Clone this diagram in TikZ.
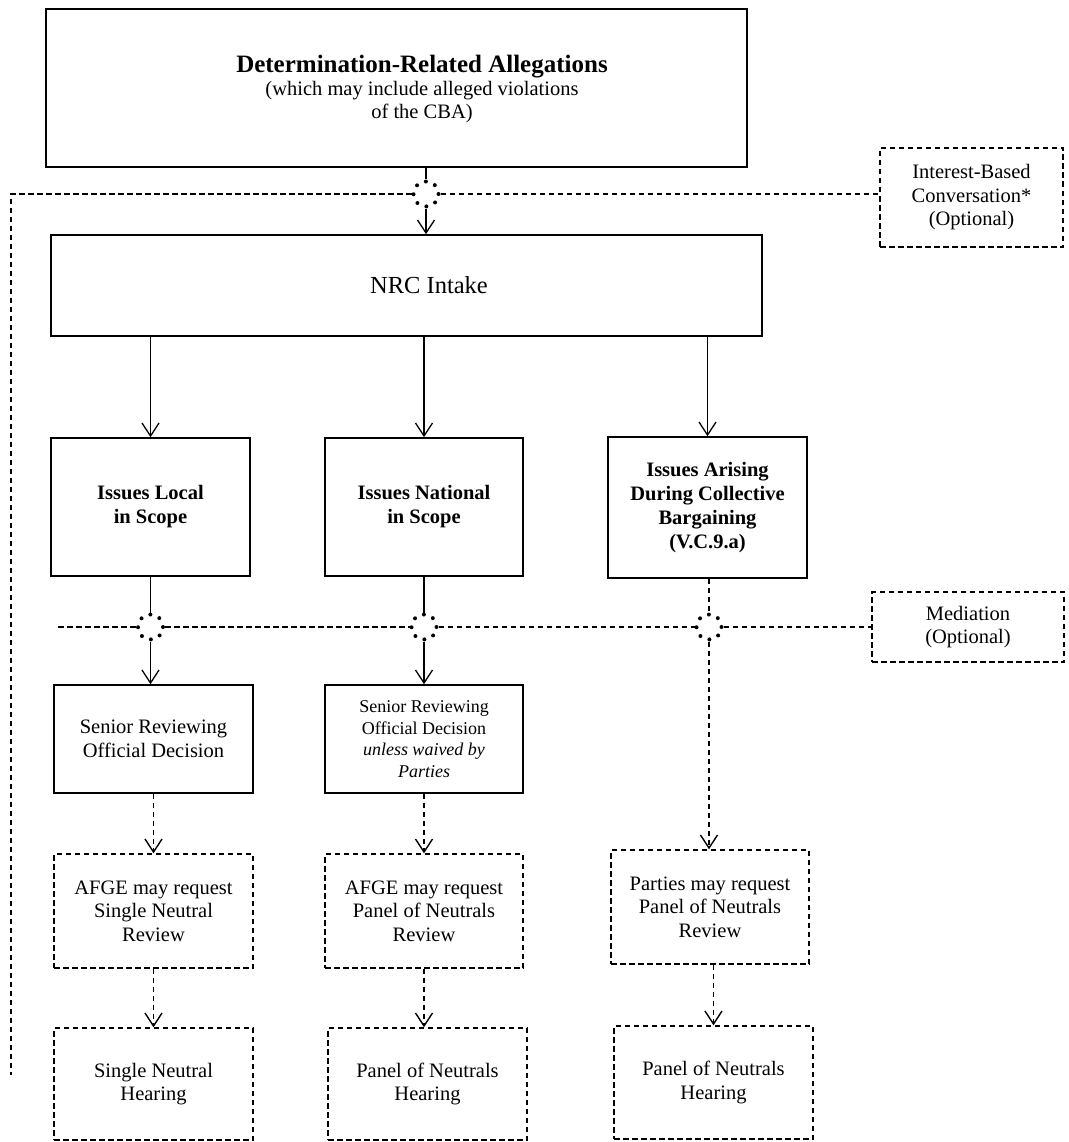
\documentclass[tikz,border=0pt]{standalone}
\usepackage{fontspec}
\setmainfont{Liberation Serif}
\usetikzlibrary{arrows.meta}

\begin{document}
\begin{tikzpicture}[x=1pt,y=-1pt,line width=1.3pt,
  >={Straight Barb[length=13pt,width=17pt]},
  solidbox/.style={rectangle,draw=black,line width=1.6pt,align=center,inner sep=0pt,
                   minimum width=199pt,font=\fontsize{20.5}{23.5}\selectfont},
  dashbox/.style={solidbox,line width=1.4pt,dash pattern=on 5.5pt off 3.5pt},
  boldtext/.style={font=\fontsize{20.5}{24}\selectfont\bfseries},
  boxtext/.style={align=center,inner sep=0pt,font=\fontsize{20.5}{23}\selectfont},
  junction/.style={circle,draw=black,minimum size=25pt,inner sep=0pt,line width=4pt,
                   line cap=round,dash pattern=on 0pt off 9.82pt},
  dashline/.style={line width=1.4pt,dash pattern=on 5.5pt off 3.5pt}]
\useasboundingbox (0,0) rectangle (1068,1142);

\node at (396.5,88) [solidbox,minimum width=701pt,minimum height=158pt] (allegations) {};
\node at (422,89) [boxtext] (allegationstext) {{\fontsize{25}{28}\selectfont\bfseries Determination-Related Allegations}\\
									    (which may include alleged violations\\
									    of the CBA)};
\node at (971.5,197.5) [dashbox,minimum width=183pt,minimum height=99pt] (interest) {Interest-Based\\
									    Conversation*\\
									    (Optional)};
\node at (426,194) [junction] (jtop) {};
\node at (406.5,285.5) [solidbox,minimum width=711pt,minimum height=101pt] (intake) {};
\node at (429,285.5) [boxtext,font=\fontsize{24.5}{28}\selectfont] (intaketext) {NRC Intake};

\node at (150.5,507) [solidbox,boldtext,minimum height=138pt] (local) {Issues Local\\
									    in Scope};
\node at (424,507) [solidbox,boldtext,minimum width=198pt,minimum height=138pt] (national) {Issues National\\
									    in Scope};
\node at (707.5,507.5) [solidbox,boldtext,minimum height=141pt] (arising) {Issues Arising\\
									    During Collective\\
									    Bargaining\\
									    (V.C.9.a)};

\node at (150.5,627) [junction] (jlocal) {};
\node at (424,627) [junction] (jnational) {};
\node at (709,627) [junction] (jarising) {};
\node at (968,627) [dashbox,minimum width=192pt,minimum height=70pt] (mediation) {Mediation\\
									    (Optional)};

\node at (153.5,739) [solidbox,minimum height=108pt] (srolocal) {Senior Reviewing\\
									    Official Decision};
\node at (424,739) [solidbox,minimum width=198pt,minimum height=108pt,font=\fontsize{18}{21.7}\selectfont] (sronational) {Senior Reviewing\\
									    Official Decision\\
									    \textit{unless waived by}\\
									    \textit{Parties}};

\node at (153.5,911) [dashbox,minimum height=114pt] (afgesingle) {AFGE may request\\
									    Single Neutral\\
									    Review};
\node at (424,911) [dashbox,minimum width=198pt,minimum height=114pt] (afgepanel) {AFGE may request\\
									    Panel of Neutrals\\
									    Review};
\node at (710,907) [dashbox,minimum width=198pt,minimum height=114pt] (partiespanel) {Parties may request\\
									    Panel of Neutrals\\
									    Review};

\node at (153.5,1084) [dashbox,minimum height=112pt] (hearsingle) {Single Neutral\\
									    Hearing};
\node at (427.5,1084) [dashbox,minimum height=112pt] (hearpanel) {Panel of Neutrals\\
									    Hearing};
\node at (713.5,1082.5) [dashbox,minimum height=113pt] (hearparties) {Panel of Neutrals\\
									    Hearing};

\coordinate (topleft) at (11,194);
\coordinate (leftend) at (11,1075);
\coordinate (midleft) at (58,627);

% top part
\draw (allegations.south -| jtop) -- (jtop);
\draw[->] (jtop) -- (jtop |- intake.north);
\draw[dashline] (jtop) -- (topleft) -- (leftend);
\draw[dashline] (jtop) -- (jtop -| interest.west);

\draw[->] (intake.south -| local) -- (local);
\draw[->] (intake.south -| national) -- (national);
\draw[->] (intake.south -| arising) -- (arising);

% mediation
\draw (local) -- (jlocal);
\draw (national) -- (jnational);
\draw[dashline] (arising.south -| jarising) -- (jarising);
\draw[dashline] (midleft) -- (jlocal);
\draw[dashline] (jlocal) -- (jnational);
\draw[dashline] (jnational) -- (jarising);
\draw[dashline] (jarising) -- (mediation);

\draw[->] (jlocal) -- (jlocal |- srolocal.north);
\draw[->] (jnational) -- (jnational |- sronational.north);
\draw[->,dashline] (jarising) -- (jarising |- partiespanel.north);

% review and hearing
\draw[->,dashline] (srolocal) -- (afgesingle);
\draw[->,dashline] (afgesingle) -- (hearsingle);
\draw[->,dashline] (sronational) -- (afgepanel);
\draw[->,dashline] (afgepanel.south) -- (afgepanel.south |- hearpanel.north);
\draw[->,dashline] (partiespanel.south -| hearparties) -- (hearparties);
\end{tikzpicture}
\end{document}
